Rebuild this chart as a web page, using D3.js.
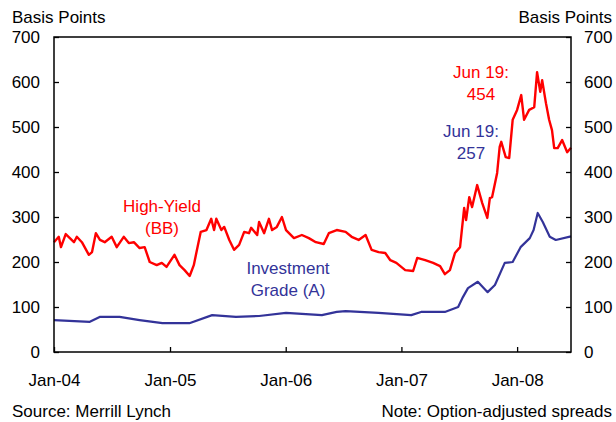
<!DOCTYPE html>
<html>
<head>
<meta charset="utf-8">
<title>Corporate bond spreads</title>
<script src="https://cdn.jsdelivr.net/npm/d3@7"></script>
<style>
    body { margin: 0; background: #fff; }
    svg text { font-family: "Liberation Sans", Arial, sans-serif; font-size: 17px; fill: #000; }
    .axis path { display: none; }
    .axis line { stroke: #000; stroke-width: 1.3px; }
    .frame { fill: none; stroke: #000; stroke-width: 1.5px; }
    .hy { fill: none; stroke: #ff0000; stroke-width: 2.4px; stroke-linejoin: round; }
    .ig { fill: none; stroke: #333399; stroke-width: 2.2px; stroke-linejoin: round; }
</style>
</head>
<body>
<script>
// High-Yield (BB) spread, basis points
var hyDates = ["2004-01-01", "2004-01-16", "2004-01-23", "2004-02-07", "2004-02-20", "2004-03-04",
    "2004-03-13", "2004-03-29", "2004-04-20", "2004-04-30", "2004-05-12", "2004-05-25", "2004-06-09",
    "2004-07-01", "2004-07-17", "2004-08-08", "2004-08-24", "2004-09-09", "2004-09-27", "2004-10-13",
    "2004-10-29", "2004-11-20", "2004-12-06", "2004-12-21", "2005-01-15", "2005-01-31", "2005-02-16",
    "2005-03-04", "2005-03-17", "2005-04-01", "2005-04-08",
    "2005-04-26", "2005-05-11", "2005-05-20", "2005-05-27", "2005-06-12", "2005-06-21", "2005-07-07",
    "2005-07-22", "2005-08-07", "2005-08-23", "2005-09-07", "2005-09-14", "2005-10-03", "2005-10-09",
    "2005-10-25", "2005-11-09", "2005-11-19", "2005-12-04", "2005-12-20", "2006-01-02", "2006-01-27",
    "2006-02-21", "2006-03-15", "2006-04-06", "2006-05-01", "2006-05-17", "2006-06-11", "2006-07-09",
    "2006-07-28", "2006-08-19", "2006-09-10", "2006-09-29", "2006-10-21", "2006-11-11", "2006-11-27",
    "2006-12-16", "2007-01-13", "2007-02-07", "2007-02-20", "2007-03-17", "2007-04-11", "2007-05-03",
    "2007-05-18", "2007-06-03", "2007-06-19", "2007-07-05",
    "2007-07-18", "2007-07-24", "2007-08-03", "2007-08-12", "2007-08-28", "2007-09-13", "2007-09-29",
    "2007-10-07", "2007-10-14", "2007-10-30", "2007-11-07", "2007-11-12", "2007-11-26", "2007-12-07",
    "2007-12-18", "2008-01-01", "2008-01-14", "2008-01-23", "2008-02-08", "2008-02-24", "2008-03-04",
    "2008-03-14", "2008-03-20", "2008-04-01", "2008-04-11", "2008-04-20", "2008-04-27", "2008-05-08",
    "2008-05-22", "2008-06-07", "2008-06-19"];
var hyValues = [244, 256, 233, 262, 253, 244,
    256, 244, 216, 222, 264, 249, 244,
    256, 233, 256, 242, 244, 231, 233,
    200, 193, 198, 189, 216, 193, 182,
    169, 193, 244, 267,
    271, 296, 271, 296, 271, 278, 249,
    227, 238, 267, 264, 276, 260, 289,
    264, 296, 271, 278, 300, 271, 253,
    260, 253, 244, 240, 264, 271, 267,
    256, 249, 260, 227, 222, 220, 204,
    198, 182, 180, 209, 204, 198, 191,
    173, 182, 220, 233,
    320, 293, 344, 322, 371, 331, 298,
    342, 344, 398, 456, 467, 433, 431,
    516, 538, 571, 516, 538, 544, 622,
    578, 604, 553, 516, 493, 453, 453,
    471, 444, 454];

// Investment Grade (A) spread, basis points
var igDates = ["2004-01-01", "2004-04-23", "2004-05-24", "2004-07-26", "2004-09-27", "2004-12-08",
    "2005-03-03", "2005-05-14", "2005-07-28", "2005-10-09", "2006-01-02", "2006-04-25", "2006-06-11",
    "2006-07-09", "2006-10-21", "2007-02-01", "2007-03-04", "2007-05-18", "2007-06-29", "2007-07-14",
    "2007-07-30", "2007-08-30", "2007-09-30", "2007-10-23", "2007-11-23", "2007-12-18", "2008-01-12",
    "2008-02-10", "2008-02-22", "2008-03-06", "2008-03-22", "2008-04-13", "2008-05-02", "2008-06-19"];
var igValues = [71, 67, 78, 78, 71, 64,
    64, 82, 78, 80, 87, 82, 89,
    91, 87, 82, 89, 89, 100, 122,
    142, 156, 133, 149, 198, 200, 233,
    253, 271, 309, 289, 256, 249, 257];

var yTicks = [0, 100, 200, 300, 400, 500, 600, 700];
var xTickDates = ["2004-01-01", "2005-01-01", "2006-01-01", "2007-01-01", "2008-01-01"];

var width = 616, height = 422;
var margin = {top: 37, left: 54, right: 45, bottom: 70};

var parse = d3.timeParse("%Y-%m-%d");

var svg = d3.select("body").append("svg")
    .attr("width", width)
    .attr("height", height);

var x = d3.scaleTime()
    .domain([parse("2004-01-01"), parse("2008-06-19")])
    .range([margin.left, width - margin.right]);

var y = d3.scaleLinear()
    .domain([0, 700])
    .range([height - margin.bottom, margin.top]);

var hy = hyDates.map(function (d, i) { return {date: parse(d), value: hyValues[i]}; });
var ig = igDates.map(function (d, i) { return {date: parse(d), value: igValues[i]}; });

var line = d3.line()
    .x(function (d) { return x(d.date); })
    .y(function (d) { return y(d.value); });

// axes (ticks point into the plot)
svg.append("g")
    .attr("class", "axis")
    .attr("transform", "translate(0," + y(0) + ")")
    .call(d3.axisBottom(x)
        .tickValues(xTickDates.map(parse))
        .tickFormat(d3.timeFormat("%b-%y"))
        .tickSize(-5)
        .tickPadding(22));

svg.append("g")
    .attr("class", "axis")
    .attr("transform", "translate(" + x.range()[0] + ",0)")
    .call(d3.axisLeft(y).tickValues(yTicks).tickSize(-5).tickPadding(14));

svg.append("g")
    .attr("class", "axis")
    .attr("transform", "translate(" + x.range()[1] + ",0)")
    .call(d3.axisRight(y).tickValues(yTicks).tickSize(-5).tickPadding(13));

svg.selectAll(".axis text").style("font-size", "17px").attr("fill", "#000");

svg.append("path").datum(ig).attr("class", "ig").attr("d", line);
svg.append("path").datum(hy).attr("class", "hy").attr("d", line);

svg.append("rect")
    .attr("class", "frame")
    .attr("x", x.range()[0])
    .attr("y", y(700))
    .attr("width", x.range()[1] - x.range()[0])
    .attr("height", y(0) - y(700));

// headers and footers
svg.append("text").attr("x", 12).attr("y", 23).text("Basis Points");
svg.append("text").attr("x", 612).attr("y", 23).attr("text-anchor", "end").text("Basis Points");
svg.append("text").attr("x", 12).attr("y", 417).text("Source: Merrill Lynch");
svg.append("text").attr("x", 612).attr("y", 417).attr("text-anchor", "end").text("Note: Option-adjusted spreads");

// series labels
function label(lines, cx, cy, color) {
    var t = svg.append("text")
        .attr("text-anchor", "middle")
        .style("fill", color);
    lines.forEach(function (s, i) {
        t.append("tspan").attr("x", cx).attr("y", cy + i * 22).text(s);
    });
}

label(["High-Yield", "(BB)"], 162, 212, "#ff0000");
label(["Investment", "Grade (A)"], 288, 274, "#333399");
label(["Jun 19:", "454"], 481, 78, "#ff0000");
label(["Jun 19:", "257"], 471, 137, "#333399");
</script>
</body>
</html>
